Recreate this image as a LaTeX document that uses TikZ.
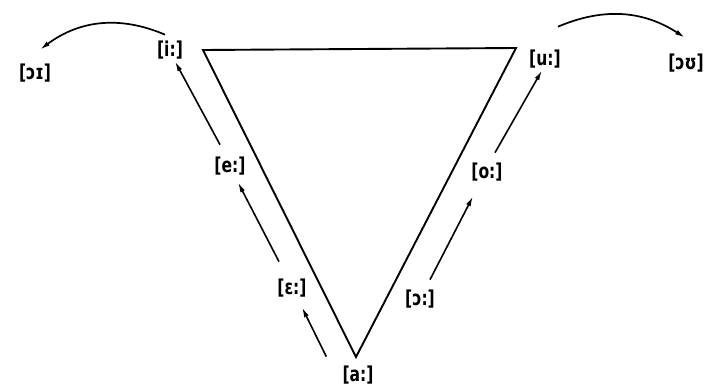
\documentclass[tikz,border=0pt]{standalone}
\usepackage{fontspec}
\setmainfont{DejaVu Sans}[FakeStretch=0.76]
\usetikzlibrary{arrows.meta}
\tikzset{
  trisides/.style = {line width=1.9pt, line join=miter},
  vowel/.style    = {inner sep=2pt, font=\fontsize{20.5}{24}\selectfont\bfseries},
  raisear/.style  = {-{Latex[length=10pt,width=5pt]}, line width=1.6pt},
  glidear/.style  = {-{Latex[length=10pt,width=5pt]}, line width=1.7pt}
}

\begin{document}
\begin{tikzpicture}[x=1pt,y=-1pt]
  \useasboundingbox (0,0) rectangle (707,389);
  \draw[trisides] (203,50) -- (516,48) -- (356,357) -- cycle;
  \node[vowel] (ii)   at (170,50)  {[i:]};
  \node[vowel] (oi)   at (35,73)   {[ɔɪ]};
  \node[vowel] (uu)   at (545,59)  {[u:]};
  \node[vowel] (ou)   at (686,63)  {[ɔʊ]};
  \node[vowel] (ee)   at (230,166) {[e:]};
  \node[vowel] (eps)  at (292,288) {[ɛ:]};
  \node[vowel] (aa)   at (358,375) {[a:]};
  \node[vowel] (oo)   at (487,172) {[o:]};
  \node[vowel] (open) at (420,299) {[ɔ:]};
  \draw[raisear] ([xshift=-14pt,yshift=7pt]aa.north west) -- ([xshift=10pt,yshift=-8pt]eps.south);
  \draw[raisear] ([xshift=-13pt,yshift=15pt]eps.north) -- ([xshift=8pt,yshift=-5pt]ee.south);
  \draw[raisear] ([xshift=-10pt,yshift=10pt]ee.north) -- ([xshift=5pt]ii.south);
  \draw[raisear] ([xshift=10pt,yshift=8pt]open.north) -- ([xshift=-14pt,yshift=-13pt]oo.south);
  \draw[raisear] ([xshift=8pt,yshift=8pt]oo.north) -- ([xshift=-3pt]uu.south);
  \draw[glidear] ([xshift=-5pt,yshift=4pt]ii.north) to[bend right=30] ([xshift=5pt,yshift=12pt]oi.north);
  \draw[glidear] ([xshift=13pt,yshift=21pt]uu.north) to[bend left=28] ([xshift=-1pt,yshift=14pt]ou.north);
\end{tikzpicture}
\end{document}
